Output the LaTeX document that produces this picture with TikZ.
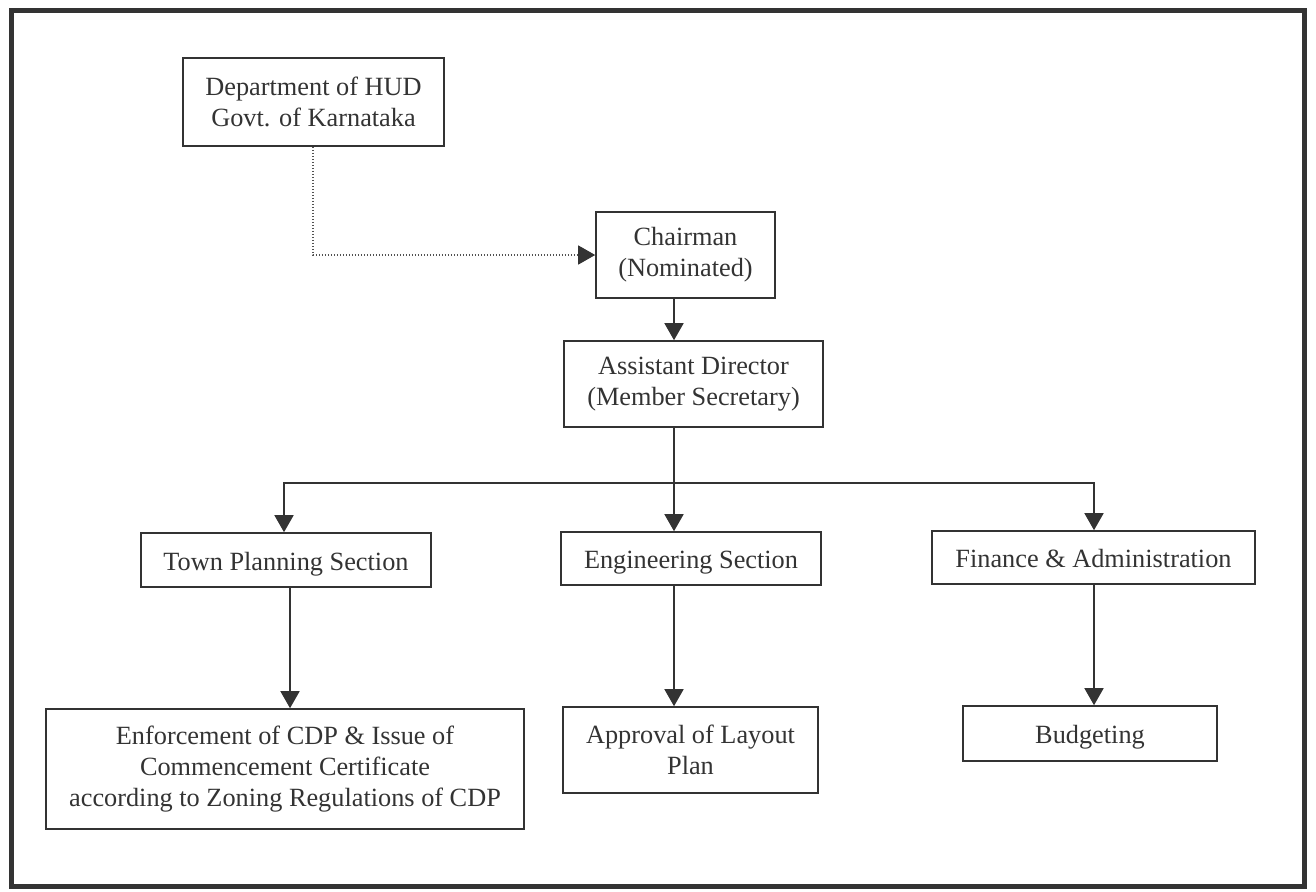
\documentclass[tikz,border=0pt]{standalone}
\usepackage{fontspec}
\setmainfont{Liberation Serif}
\usetikzlibrary{arrows.meta}
\definecolor{ink}{HTML}{333333}
\begin{document}
\begin{tikzpicture}[x=1pt,y=-1pt,
  box/.style={draw=ink, line width=1.6pt, text=ink, align=center, inner sep=0pt,
              font=\fontsize{26.3}{31}\selectfont},
  oneline/.style={text height=22pt, text depth=2pt},
  conn/.style={draw=ink, line width=1.6pt, -{Triangle[length=17pt,width=19pt,color=ink]}},
  dotconn/.style={draw=ink!85, line width=1.3pt, dash pattern=on 1.3pt off 1.7pt,
                  -{Triangle[length=17pt,width=19pt,color=ink]}}]
\useasboundingbox (0,0) rectangle (1316,891);
\draw[ink, line width=5pt] (11,11) rectangle (1304,886);

\node[box, minimum width=261pt, minimum height=88pt] (hud) at (313.5,102) {Department of HUD\\Govt. of Karnataka};
\node[box, minimum width=179pt, minimum height=86pt] (chair) at (685.5,255) {Chairman\\(Nominated)};
\node[box, minimum width=259pt, minimum height=86pt] (ad) at (693.5,384) {Assistant Director\\(Member Secretary)};
\node[box, oneline, minimum width=290pt, minimum height=54pt] (tp) at (286,560) {Town Planning Section};
\node[box, oneline, minimum width=260pt, minimum height=53pt] (eng) at (691,558.5) {Engineering Section};
\node[box, oneline, minimum width=323pt, minimum height=53pt] (fin) at (1093.5,557.5) {Finance \& Administration};
\node[box, minimum width=478pt, minimum height=120pt] (enf) at (285,769) {Enforcement of CDP \& Issue of\\Commencement Certificate\\according to Zoning Regulations of CDP};
\node[box, minimum width=255pt, minimum height=86pt] (appr) at (690.5,750) {Approval of Layout\\Plan};
\node[box, oneline, minimum width=254pt, minimum height=55pt] (bud) at (1090,733.5) {Budgeting};

\coordinate (bus) at (0,483);
\coordinate (c1) at (284,0);
\coordinate (c1b) at (290,0);
\coordinate (c2) at (674,0);
\coordinate (c3) at (1094,0);
\coordinate (dot) at (313,0);

\draw[dotconn] (hud.south -| dot) |- (chair.west);
\draw[conn] (chair.south -| c2) -- (ad.north -| c2);
\draw[conn] (ad.south -| c2) -- (eng.north -| c2);
\draw[conn] (bus -| c2) -| (tp.north -| c1);
\draw[conn] (bus -| c2) -| (fin.north -| c3);
\draw[conn] (tp.south -| c1b) -- (enf.north -| c1b);
\draw[conn] (eng.south -| c2) -- (appr.north -| c2);
\draw[conn] (fin.south -| c3) -- (bud.north -| c3);
\end{tikzpicture}
\end{document}
